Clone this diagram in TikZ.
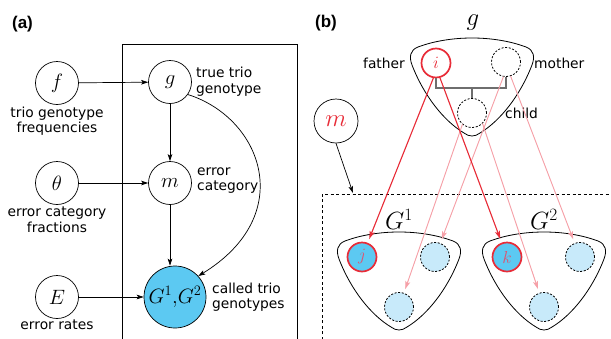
\documentclass[tikz,border=0pt]{standalone}
\usepackage[no-math]{fontspec}
\newfontfamily\dv{DejaVu Sans}
\newfontfamily\lsb{Liberation Sans}
\usetikzlibrary{arrows.meta}
\definecolor{cblue}{RGB}{92,201,242}
\definecolor{lblue}{RGB}{200,234,250}
\definecolor{cred}{RGB}{232,44,56}
\definecolor{cpink}{RGB}{246,160,168}
\definecolor{jtxt}{RGB}{222,84,112}
\definecolor{bracketgray}{RGB}{110,110,110}
\tikzset{
  var/.style={circle, draw, line width=0.7pt, minimum size=43pt, inner sep=0pt, font=\fontsize{22}{22}\selectfont},
  lbl/.style={font=\dv\fontsize{13.8}{15.5}\selectfont, inner sep=0pt},
  panel/.style={font=\lsb\bfseries\fontsize{17}{17}\selectfont, inner sep=0pt},
  arr/.style={-{Stealth[length=7pt,width=4.6pt,inset=1.6pt]}, line width=0.7pt},
  sm/.style={circle, minimum size=29pt, inner sep=0pt, font=\fontsize{18}{18}\selectfont},
  dashc/.style={sm, draw, dash pattern=on 2pt off 1.6pt, line width=0.8pt},
  lbc/.style={dashc, fill=lblue},
  redc/.style={sm, draw=cred, line width=1.7pt},
  redarr/.style={-{Stealth[length=8pt,width=5pt,inset=1.8pt]}, draw=cred, fill=cred, line width=1.1pt, shorten >=4pt},
  pinkarr/.style={-{Stealth[length=8pt,width=5pt,inset=1.8pt]}, draw=cpink, fill=cpink, line width=0.9pt, shorten >=4pt},
  biglbl/.style={font=\fontsize{24}{24}\selectfont, inner sep=0pt},
  rtri/.pic={\draw[line width=0.8pt] (-54,8) .. controls (-22,-4) and (22,-4) .. (54,8)
     .. controls (62,11) and (63,18) .. (60,26)
     .. controls (48,57) and (28,82) .. (8,94)
     .. controls (3,98) and (-3,98) .. (-8,94)
     .. controls (-28,82) and (-48,57) .. (-60,26)
     .. controls (-63,18) and (-62,11) .. (-54,8) -- cycle;}
}
\begin{document}
\begin{tikzpicture}[x=1pt,y=-1pt]
\clip (0,0) rectangle (611,338);
\fill[white] (0,0) rectangle (611,338);

% ---------- panel (a)
\node[panel] (pa) at (22.5,24) {(a)};
\draw[line width=0.7pt] (122,345) -- (122,44) -- (297,44) -- (297,345);

\node[var] (f) at (57,83) {$f$};
\node[var] (g) at (170,82) {$g$};
\node[var] (th) at (57,183) {$\theta$};
\node[var] (m) at (170,183) {$m$};
\node[var] (E) at (57,297) {$E$};
\node[circle, draw, fill=cblue, line width=0.7pt, minimum size=62pt, inner sep=0pt, font=\fontsize{22}{22}\selectfont] (G) at (175,297) {$G^1{,}G^2$};

\node[lbl, align=center] (tf) at (57,121) {trio genotype\\frequencies};
\node[lbl, align=center] (tth) at (57,219.5) {error category\\fractions};
\node[lbl, align=center] (tE) at (57,325) {error rates};
\node[lbl, align=left, anchor=west] (tg) at (196,81.5) {true trio\\genotype};
\node[lbl, align=left, anchor=west] (tm) at (197,180.5) {error\\category};
\node[lbl, align=left, anchor=west] (tG) at (212,297) {called trio\\genotypes};

\draw[arr] (f) -- (g);
\draw[arr] (th) -- (m);
\draw[arr] (E) -- (G);
\draw[arr] (g) -- (m);
\draw[arr] (m.south) -- (m.south |- G.north);
\draw[arr] (g.-35) .. controls (262,118) and (298,215) .. (G.42);

% ---------- panel (b)
\node[panel] (pb) at (326,23) {(b)};
\node[biglbl] (glab) at (473,23) {$g$};
\pic at (472,39) {rtri};
\node[redc] (fa) at (436,63) {\color{cred}$i$};
\node[dashc] (mo) at (506,62) {};
\node[dashc] (ch) at (472,113) {};
\coordinate (bar) at (472,88);
\draw[bracketgray, line width=1.2pt] (fa.south) |- (bar) -| (mo.south);
\draw[bracketgray, line width=1.2pt] (bar) -- (ch.north);
\node[lbl, anchor=east] (tfa) at (405,63) {father};
\node[lbl, anchor=west] (tmo) at (534,63) {mother};
\node[lbl, anchor=west] (tch) at (505,113) {child};

\node[circle, draw, line width=0.7pt, minimum size=44pt, inner sep=0pt, font=\fontsize{24}{24}\selectfont] (mb) at (336,121) {\color{cred}$m$};
\draw[dash pattern=on 3pt off 2.5pt, line width=0.7pt] (322,345) -- (322,194) -- (615,194);
\coordinate (mtip) at (353,193);
\draw[arr] (mb.south) -- (mtip);

\pic at (399,233) {rtri};
\pic at (544,233) {rtri};
\node[biglbl] (G1lab) at (399,219) {$G^1$};
\node[biglbl] (G2lab) at (544,219) {$G^2$};

\node[redc, fill=cblue] (j) at (362,257) {\color{jtxt}$j$};
\node[lbc] (m1) at (435,257) {};
\node[lbc] (c1) at (399,307) {};
\node[redc, fill=cblue] (k) at (507,257) {\color{jtxt}$k$};
\node[lbc] (m2) at (580,257) {};
\node[lbc] (c2) at (544,307) {};

\draw[pinkarr] (mo.-100) -- (m1);
\draw[pinkarr] (mo.-72) -- (m2);
\draw[pinkarr] (ch.-130) -- (c1);
\draw[pinkarr] (ch.-45) -- (c2);
\draw[redarr] (fa.-100) -- (j);
\draw[redarr] (fa.-75) -- (k);
\end{tikzpicture}
\end{document}
